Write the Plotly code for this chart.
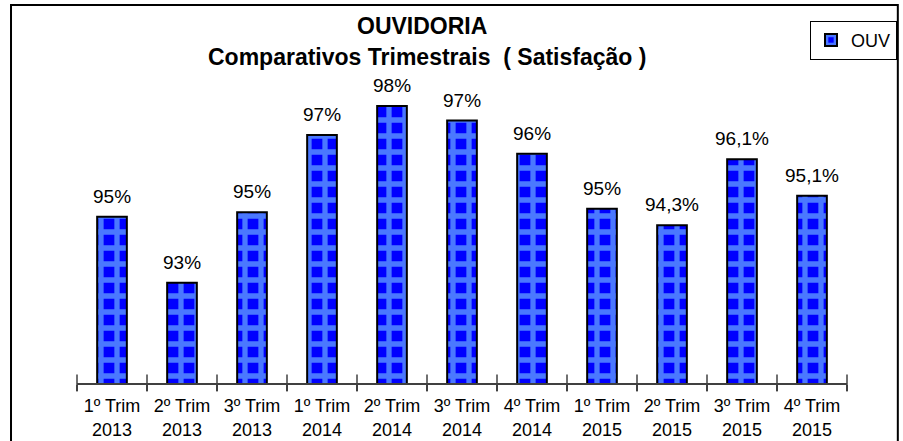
import plotly.graph_objects as go

categories = ["1º Trim<br>2013", "2º Trim<br>2013", "3º Trim<br>2013",
              "1º Trim<br>2014", "2º Trim<br>2014", "3º Trim<br>2014", "4º Trim<br>2014",
              "1º Trim<br>2015", "2º Trim<br>2015", "3º Trim<br>2015", "4º Trim<br>2015"]
values = [94.53, 92.73, 94.65, 96.76, 97.55, 97.15, 96.25, 94.75, 94.3, 96.1, 95.1]
labels = ["95%", "93%", "95%", "97%", "98%", "97%", "96%", "95%", "94,3%", "96,1%", "95,1%"]
series_name = "OUV"
title_line1 = "OUVIDORIA"
title_line2 = "Comparativos Trimestrais  ( Satisfação )"

FONT = "Liberation Sans, Arial, sans-serif"
Y_MIN, Y_MAX = 90, 100
n = len(categories)

fig = go.Figure()
fig.add_trace(go.Bar(
    x=categories, y=values, name=series_name,
    marker=dict(
        color="#0000FF",
        line=dict(color="black", width=2),
        pattern=dict(shape="+", bgcolor="#0000FF", fgcolor="#4A78FF",
                     fgopacity=1, size=16, solidity=0.55, fillmode="replace"),
    ),
))

# tick marks crossing the axis line at the category boundaries
boundaries = [i - 0.5 for i in range(n + 1)]
fig.add_trace(go.Scatter(
    x=boundaries, y=[Y_MIN] * len(boundaries), xaxis="x2", mode="markers",
    marker=dict(symbol="line-ns", size=12, line=dict(width=1.5, color="#404040")),
    cliponaxis=False, showlegend=False, hoverinfo="skip"))

for c, v, t in zip(categories, values, labels):
    fig.add_annotation(x=c, y=v, text=t, showarrow=False, yanchor="bottom",
                       yshift=8, font=dict(family=FONT, size=19, color="black"))

fig.add_annotation(xref="paper", yref="paper", x=0.448, y=0.973,
                   text="<b>" + title_line1 + "</b>", showarrow=False,
                   yanchor="middle", font=dict(family=FONT, size=23, color="black"))
fig.add_annotation(xref="paper", yref="paper", x=0.4545, y=0.888,
                   text="<b>" + title_line2 + "</b>", showarrow=False,
                   yanchor="middle", font=dict(family=FONT, size=23, color="black"))

fig.add_shape(type="rect", xref="paper", yref="paper",
              x0=-0.0857, x1=1.066, y0=-0.2, y1=1.03,
              line=dict(color="black", width=2), fillcolor="rgba(0,0,0,0)", layer="below")

fig.update_layout(
    width=903, height=441,
    margin=dict(l=77, r=56, t=16, b=58, autoexpand=False),
    paper_bgcolor="white", plot_bgcolor="white",
    bargap=0.576,
    showlegend=True,
    legend=dict(xref="container", yref="container", x=0.897, y=0.953,
                xanchor="left", yanchor="top",
                bordercolor="black", borderwidth=1, bgcolor="white",
                font=dict(family=FONT, size=18, color="black"),
                itemwidth=30),
    font=dict(family=FONT, size=18, color="black"),
    xaxis=dict(range=[-0.5, n - 0.5], showline=True, linecolor="#404040", linewidth=1.5,
               ticks="outside", ticklen=6, tickcolor="#404040", tickwidth=1.5,
               tickson="boundaries", showgrid=False, ticklabelstandoff=6,
               tickfont=dict(family=FONT, size=18, color="black")),
    xaxis2=dict(type="linear", range=[-0.5, n - 0.5], overlaying="x", anchor="y",
                visible=False, showgrid=False),
    yaxis=dict(range=[Y_MIN, Y_MAX], visible=False, showgrid=False),
)

fig.write_html("out.html", config={"displayModeBar": False},
               post_script="document.body.style.margin='0';document.body.style.overflow='hidden';")
